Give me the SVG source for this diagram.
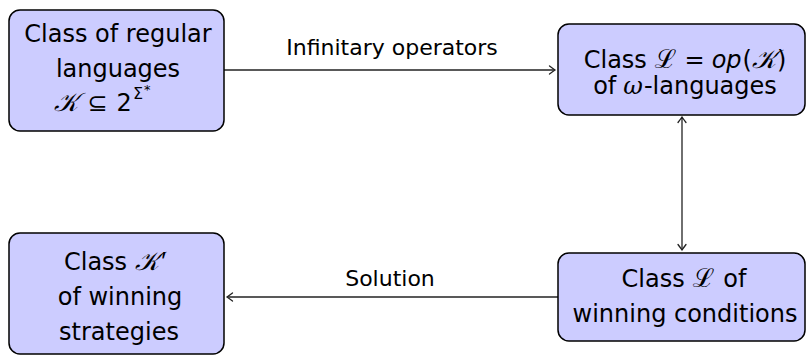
<svg xmlns="http://www.w3.org/2000/svg" width="808" height="357" viewBox="0 0 808 357">
  <defs>
    <style>
      .box { fill: #ccccff; stroke: #000; stroke-width: 1.5; }
      .txt { font-family: "DejaVu Sans", "Noto Sans", sans-serif; font-size: 24px; fill: #000; text-anchor: middle; }
      .lbl { font-family: "DejaVu Sans", "Noto Sans", sans-serif; font-size: 22px; fill: #000; text-anchor: middle; }
      .cal { font-family: "DejaVu Serif", "DejaVu Sans", "Noto Sans", serif; font-style: italic; font-size: 26px; }
      .scl { font-family: "Liberation Serif", "Noto Sans", "DejaVu Sans", serif; font-style: italic; font-size: 26px; }
      .pr { font-family: "Liberation Sans", "DejaVu Sans", sans-serif; font-size: 26px; }
      .gr { font-family: "DejaVu Serif", "Liberation Serif", serif; font-style: italic; }
      .it { font-style: italic; }
      .edge { fill: none; stroke: #222; stroke-width: 1.3; }
    </style>
    <marker id="tip" viewBox="-8 -5 10 10" refX="0" refY="0" markerWidth="10" markerHeight="10" markerUnits="userSpaceOnUse" orient="auto-start-reverse">
      <path d="M -5.5 -4 Q -1.5 -1 0 0 Q -1.5 1 -5.5 4" fill="none" stroke="#222" stroke-width="1.3" stroke-linecap="round"/>
    </marker>
  </defs>

  <!-- connectors -->
  <g id="edges">
    <g id="e-ops">
      <path class="edge" d="M 224 70 L 555 70" marker-end="url(#tip)"/>
      <text class="lbl" x="392" y="55">Infinitary operators</text>
    </g>
    <g id="e-equiv">
      <path class="edge" d="M 682 117 L 682 250" marker-start="url(#tip)" marker-end="url(#tip)"/>
    </g>
    <g id="e-solution">
      <path class="edge" d="M 558 297 L 227 297" marker-end="url(#tip)"/>
      <text class="lbl" x="390" y="286">Solution</text>
    </g>
  </g>

  <!-- nodes -->
  <g id="regular">
    <rect class="box" x="9" y="10" width="215" height="121" rx="11"/>
    <text class="txt" x="118" y="42">Class of regular</text>
    <text class="txt" x="118" y="77">languages</text>
    <text class="txt" x="102" y="111"><tspan class="cal">𝒦</tspan><tspan dx="10">⊆</tspan><tspan dx="9">2</tspan><tspan dx="1" dy="-12" font-size="16">Σ</tspan><tspan dx="1" dy="-5" font-size="13">*</tspan></text>
  </g>

  <g id="omega">
    <rect class="box" x="558" y="24" width="247" height="91" rx="11"/>
    <text class="txt" x="685" y="68">Class<tspan class="scl" dx="8">ℒ</tspan><tspan dx="8">=</tspan><tspan class="it" dx="7">op</tspan><tspan dx="1">(</tspan><tspan class="cal" dx="0">𝒦</tspan><tspan dx="1">)</tspan></text>
    <text class="txt" x="685" y="94">of<tspan class="gr" dx="7">ω</tspan><tspan dx="1">-languages</tspan></text>
  </g>

  <g id="winning">
    <rect class="box" x="558" y="253" width="247" height="88" rx="11"/>
    <text class="txt" x="684" y="287">Class<tspan class="scl" dx="8">ℒ</tspan><tspan dx="9">of</tspan></text>
    <text class="txt" x="685" y="322">winning conditions</text>
  </g>

  <g id="strategies">
    <rect class="box" x="9" y="233" width="215" height="121" rx="11"/>
    <text class="txt" x="115" y="270">Class<tspan class="cal" dx="8">𝒦</tspan><tspan class="pr" dx="2">′</tspan></text>
    <text class="txt" x="120" y="305">of winning</text>
    <text class="txt" x="119" y="340">strategies</text>
  </g>
</svg>
